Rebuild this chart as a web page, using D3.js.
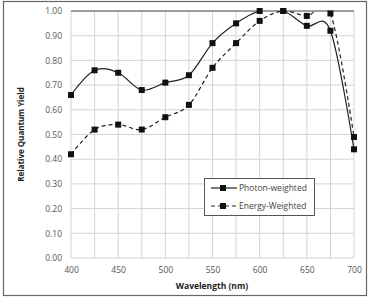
<!DOCTYPE html>
<html><head><meta charset="utf-8">
<script src="https://cdn.jsdelivr.net/npm/d3@7"></script>
<style>body{margin:0;background:#fff}svg{display:block}</style>
</head><body>
<script>
const wavelengths = [400,425,450,475,500,525,550,575,600,625,650,675,700];
const photonWeighted = [0.66,0.76,0.75,0.68,0.71,0.74,0.87,0.95,1.00,1.00,0.94,0.92,0.44];
const energyWeighted = [0.42,0.52,0.54,0.52,0.57,0.62,0.77,0.87,0.96,1.00,0.98,0.99,0.49];
const xTicks = [400,450,500,550,600,650,700];
const yTicks = [0,0.1,0.2,0.3,0.4,0.5,0.6,0.7,0.8,0.9,1.0];
const seriesNames = ["Photon-weighted","Energy-Weighted"];

const W=370,H=297;
const FONT="Open Sans, sans-serif";
const svg=d3.select("body").append("svg").attr("width",W).attr("height",H);
svg.append("rect").attr("x",3.5).attr("y",1.5).attr("width",363).attr("height",294)
  .attr("fill","#fff").attr("stroke","#666").attr("stroke-width",1.2);

const x=d3.scaleLinear().domain([400,700]).range([71,354]);
const y=d3.scaleLinear().domain([0,1]).range([258,11]);

svg.append("clipPath").attr("id","pc").append("rect")
  .attr("x",x(400)).attr("y",y(1)).attr("width",x(700)-x(400)).attr("height",y(0)-y(1));

const g=svg.append("g");
g.selectAll(".vg").data(d3.range(400,701,25)).join("line")
  .attr("x1",d=>x(d)).attr("x2",d=>x(d)).attr("y1",y(0)).attr("y2",y(1))
  .attr("stroke","#d4d4d4").attr("stroke-width",1);
g.selectAll(".hg").data(yTicks).join("line")
  .attr("x1",x(400)).attr("x2",x(700)).attr("y1",d=>y(d)).attr("y2",d=>y(d))
  .attr("stroke","#d4d4d4").attr("stroke-width",1);
g.append("line").attr("x1",x(400)).attr("x2",x(700)).attr("y1",y(1)).attr("y2",y(1))
  .attr("stroke","#555").attr("stroke-width",1.2);

const xa=d3.axisBottom(x).tickValues(xTicks).tickFormat(d3.format("d")).tickSize(0).tickPadding(9);
svg.append("g").attr("transform",`translate(0,${y(0)})`).call(xa)
  .call(s=>s.select(".domain").remove())
  .selectAll("text").attr("font-family",FONT).attr("font-size",8.5).attr("fill","#555");
const ya=d3.axisLeft(y).tickValues(yTicks).tickFormat(d3.format(".2f")).tickSize(0).tickPadding(9);
svg.append("g").attr("transform",`translate(${x(400)},0)`).call(ya)
  .call(s=>s.select(".domain").remove())
  .selectAll("text").attr("font-family",FONT).attr("font-size",8.5).attr("fill","#555");

svg.append("text").attr("x",212).attr("y",289).attr("text-anchor","middle")
  .attr("font-family",FONT).attr("font-size",8.5).attr("font-weight","bold").attr("fill","#222")
  .text("Wavelength (nm)");
svg.append("text").attr("transform",`translate(24,${(y(0)+y(1))/2}) rotate(-90)`).attr("text-anchor","middle")
  .attr("font-family",FONT).attr("font-size",8).attr("font-weight","bold").attr("fill","#222")
  .text("Relative Quantum Yield");

const line=d3.line().x((d,i)=>x(wavelengths[i])).y(d=>y(d)).curve(d3.curveCardinal.tension(0));
const series=[{v:photonWeighted,dash:null},{v:energyWeighted,dash:"4,3"}];
series.forEach(s=>{
  svg.append("path").attr("d",line(s.v)).attr("fill","none").attr("stroke","#222")
    .attr("clip-path","url(#pc)")
    .attr("stroke-width",1.2).attr("stroke-dasharray",s.dash);
  svg.selectAll(null).data(s.v).join("rect")
    .attr("x",(d,i)=>x(wavelengths[i])-3).attr("y",d=>y(d)-3).attr("width",6).attr("height",6).attr("fill","#111");
});

const lg=svg.append("g");
lg.append("rect").attr("x",204.5).attr("y",178.5).attr("width",110).attr("height",37)
  .attr("fill","#fff").attr("stroke","#555").attr("stroke-width",1);
seriesNames.forEach((n,i)=>{
  const yy=188+i*18;
  lg.append("line").attr("x1",211).attr("x2",237).attr("y1",yy).attr("y2",yy)
    .attr("stroke","#222").attr("stroke-width",1.2).attr("stroke-dasharray",series[i].dash);
  lg.append("rect").attr("x",220).attr("y",yy-3).attr("width",6).attr("height",6).attr("fill","#111");
  lg.append("text").attr("x",239).attr("y",yy+3).attr("font-family",FONT)
    .attr("font-size",8.5).attr("fill","#444").text(n);
});
</script>
</body></html>
